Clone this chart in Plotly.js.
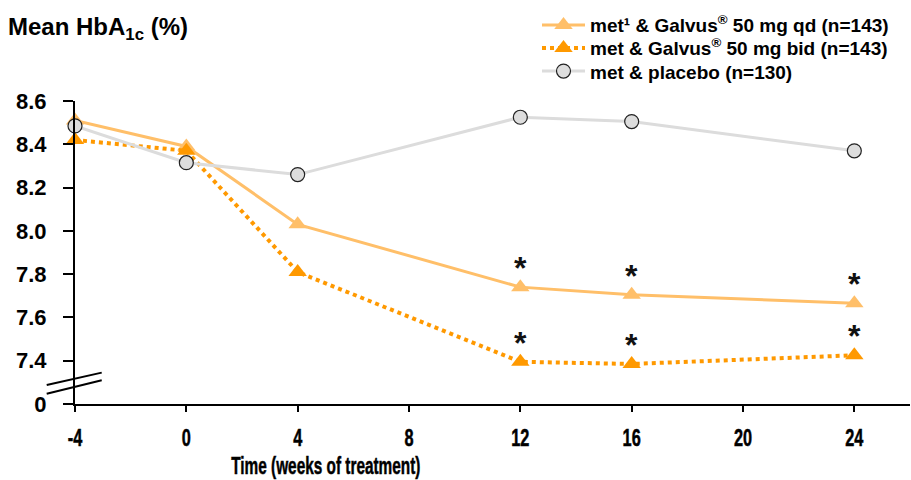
<!DOCTYPE html>
<html>
<head>
<meta charset="utf-8">
<script src="https://cdn.plot.ly/plotly-3.0.1.min.js"></script>
<style>html,body{margin:0;padding:0;background:#fff;}#chart{width:911px;height:480px;}</style>
</head>
<body>
<div id="chart"></div>
<script>
// Data
const weeks = [-4, 0, 4, 12, 16, 24];
const qdValues = [8.51, 8.39, 8.03, 7.74, 7.705, 7.665];
const bidValues = [8.42, 8.37, 7.81, 7.395, 7.385, 7.425];
const placeboValues = [8.485, 8.315, 8.26, 8.525, 8.505, 8.37];
const qdSignificant = [false, false, false, true, true, true];
const bidSignificant = [false, false, false, true, true, true];
const seriesNames = [
  "met\u00b9 & Galvus<sup>\u00ae</sup> 50 mg qd (n=143)",
  "met & Galvus<sup>\u00ae</sup> 50 mg bid (n=143)",
  "met & placebo (n=130)"
];
const xTickVals = [-4, 0, 4, 8, 12, 16, 20, 24];
const xTickText = ["-4", "0", "4", "8", "12", "16", "20", "24"];
const yTickVals = [7.2, 7.4, 7.6, 7.8, 8.0, 8.2, 8.4, 8.6];
const yTickText = ["0", "7.4", "7.6", "7.8", "8.0", "8.2", "8.4", "8.6"];
const xTitle = "Time (weeks of treatment)";

const qdColor = "#FFBF69";
const bidColor = "#FF9900";
const placeboLine = "#DCDCDC";

const traces = [
  {
    x: weeks, y: qdValues, name: seriesNames[0], type: "scatter", mode: "lines+markers",
    line: {color: qdColor, width: 3},
    marker: {symbol: "triangle-up", size: 16, color: qdColor},
    cliponaxis: false, legend: "legend"
  },
  {
    x: weeks, y: bidValues, name: seriesNames[1], type: "scatter", mode: "lines+markers",
    line: {color: bidColor, width: 4, dash: "dot"},
    marker: {symbol: "triangle-up", size: 16, color: bidColor},
    cliponaxis: false, legend: "legend2"
  },
  {
    x: weeks, y: placeboValues, name: seriesNames[2], type: "scatter", mode: "lines+markers",
    line: {color: placeboLine, width: 3},
    marker: {symbol: "circle", size: 14, color: "#DDDDDD", line: {color: "#222", width: 1.2}},
    cliponaxis: false, legend: "legend3"
  }
];

const annotations = [];
function addStars(vals, flags) {
  for (let i = 0; i < weeks.length; i++) {
    if (flags[i]) {
      annotations.push({
        x: weeks[i], y: vals[i], xref: "x", yref: "y", text: "*", showarrow: false,
        yanchor: "middle", yshift: 19,
        font: {family: "Liberation Sans, Arial, sans-serif", size: 32, color: "#111", weight: "bold"}
      });
    }
  }
}
addStars(qdValues, qdSignificant);
addStars(bidValues, bidSignificant);

annotations.push({
  text: xTitle, xref: "paper", yref: "paper",
  x: 0.3006, y: -0.2035, xanchor: "center", yanchor: "middle", showarrow: false,
  font: {family: "Liberation Sans, Arial, sans-serif", size: 24, color: "#000", weight: "bold"}
});

const legendFont = {family: "Liberation Sans, Arial, sans-serif", size: 19, color: "#000", weight: "bold"};
function legendAt(py) {
  return {
    x: (537 - 75) / 835, xanchor: "left", y: (403 - py) / 302.3, yanchor: "middle",
    itemwidth: 43,
    bgcolor: "rgba(0,0,0,0)", borderwidth: 0, font: legendFont
  };
}

const layout = {
  width: 911, height: 480,
  margin: {l: 75, r: 1, t: 100.7, b: 76.3, pad: 0},
  paper_bgcolor: "#fff", plot_bgcolor: "#fff",
  showlegend: true,
  title: {
    text: "Mean HbA<sub>1c</sub> (%)", xref: "container", yref: "container",
    x: 8 / 911, xanchor: "left", y: 1 - 27 / 480, yanchor: "middle",
    font: {family: "Liberation Sans, Arial, sans-serif", size: 24, color: "#000", weight: "bold"}
  },
  legend: legendAt(25),
  legend2: legendAt(48),
  legend3: legendAt(71),
  xaxis: {
    range: [-4, 26], tickvals: xTickVals, ticktext: xTickText,
    showline: true, linecolor: "#000", linewidth: 2,
    ticks: "outside", ticklen: 6, tickwidth: 2, tickcolor: "#000",
    showgrid: false, zeroline: false, ticklabelstandoff: 5,
    tickfont: {family: "Liberation Sans, Arial, sans-serif", size: 24, color: "#000", weight: "bold"}
  },
  yaxis: {
    range: [7.2, 8.6], tickvals: yTickVals, ticktext: yTickText,
    showline: true, linecolor: "#000", linewidth: 2,
    ticks: "outside", ticklen: 10, tickwidth: 2, tickcolor: "#000",
    showgrid: false, zeroline: false, ticklabelstandoff: 12,
    tickfont: {family: "Liberation Sans, Arial, sans-serif", size: 22, color: "#000", weight: "bold"}
  },
  shapes: [
    {type: "line", xref: "paper", yref: "paper", x0: -0.0339, y0: 0.0629, x1: 0.032, y1: 0.1035, line: {color: "#000", width: 2}},
    {type: "line", xref: "paper", yref: "paper", x0: -0.0339, y0: 0.034, x1: 0.032, y1: 0.0784, line: {color: "#000", width: 2}}
  ],
  annotations: annotations
};

// The reference uses a heavy condensed face for the x axis; compress glyphs horizontally.
function condense(el, factor) {
  const w = el.getComputedTextLength();
  if (w > 0) {
    el.setAttribute("textLength", (w * factor).toFixed(2));
    el.setAttribute("lengthAdjust", "spacingAndGlyphs");
    el.style.stroke = "#000";
    el.style.strokeWidth = "0.5px";
  }
}

Plotly.newPlot("chart", traces, layout, {displayModeBar: false, staticPlot: true}).then(function (gd) {
  gd.querySelectorAll(".xtick text").forEach(function (t) { condense(t, 0.68); });
  gd.querySelectorAll(".annotation-text").forEach(function (t) {
    if (t.textContent === xTitle) condense(t, 0.64);
  });
});
</script>
</body>
</html>
